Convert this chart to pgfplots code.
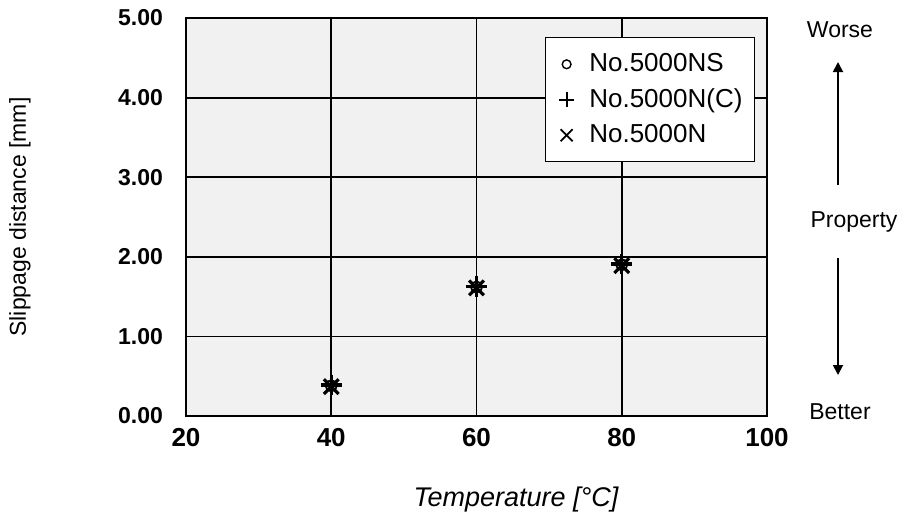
\documentclass[border=0pt]{standalone}
\usepackage{fontspec}
\setmainfont{Liberation Sans}
\usepackage{pgfplots}
\pgfplotsset{compat=1.18}
\usetikzlibrary{arrows.meta}

\begin{document}
\begin{tikzpicture}
\begin{axis}[
  scale only axis,
  width=290.5pt, height=199pt,
  xmin=20, xmax=100, ymin=0, ymax=5,
  xtick={20,40,60,80,100},
  ytick={0,1,2,3,4,5},
  major tick length=0pt,
  grid=major,
  major grid style={black, line width=0.9pt},
  axis line style={black, line width=0.8pt},
  axis background/.style={fill=gray!11},
  /pgf/number format/assume math mode=true,
  yticklabel style={/pgf/number format/fixed, /pgf/number format/fixed zerofill,
    /pgf/number format/precision=2, font=\bfseries\fontsize{11.5}{13}\selectfont, xshift=-8pt},
  xticklabel style={font=\bfseries\fontsize{13}{15}\selectfont, yshift=-2.5pt},
  xlabel={\itshape Temperature [°C]},
  ylabel={Slippage distance [mm]},
  xlabel style={font=\fontsize{13.5}{15}\selectfont, at={(rel axis cs:0.568,0)}, anchor=center, yshift=-42pt},
  ylabel style={font=\fontsize{11.5}{13}\selectfont, at={(rel axis cs:0,0.5)}, anchor=center, yshift=83pt},
  legend style={at={(rel axis cs:0.618,0.952)}, anchor=north west, draw=black, line width=0.6pt,
    fill=white, font=\fontsize{13}{15}\selectfont, row sep=3pt, inner xsep=4pt, inner ysep=6pt},
  legend cell align=left,
  clip=false,
]
\addplot[only marks, mark=o, mark size=2.8pt, black, line width=0.9pt,
  legend image code/.code={\path (0cm,0cm) (0.5cm,0cm); \draw[black, line width=0.7pt] (0.2cm,0cm) circle (2.2pt);}] coordinates {
  (40,0.38) (60,1.62) (80,1.90)
};
\addlegendentry{No.5000NS}
\addplot[only marks, mark=+, mark size=5.2pt, black, line width=1.6pt,
  legend image code/.code={\path (0cm,0cm) (0.5cm,0cm); \draw[black, line width=0.9pt] (0.2cm,-3.8pt) -- (0.2cm,3.8pt) (0.2cm-3.8pt,0cm) -- (0.2cm+3.8pt,0cm);}] coordinates {
  (40,0.39) (60,1.63) (80,1.91)
};
\addlegendentry{No.5000N(C)}
\addplot[only marks, mark=x, mark size=5.2pt, black, line width=1.6pt,
  legend image code/.code={\path (0cm,0cm) (0.5cm,0cm); \draw[black, line width=0.9pt] (0.2cm-3pt,-3pt) -- (0.2cm+3pt,3pt) (0.2cm-3pt,3pt) -- (0.2cm+3pt,-3pt);}] coordinates {
  (40,0.37) (60,1.61) (80,1.89)
};
\addlegendentry{No.5000N}
\end{axis}
\node[font=\fontsize{11.5}{13}\selectfont] at (327pt,193pt) {Worse};
\node[font=\fontsize{11.5}{13}\selectfont] at (334pt,97pt) {Property};
\node[font=\fontsize{11.5}{13}\selectfont] at (327pt,2pt) {Better};
\draw[line width=0.9pt, -{Triangle[length=5pt,width=5pt]}] (326pt,115.5pt) -- (326pt,177pt);
\draw[line width=0.9pt, -{Triangle[length=5pt,width=5pt]}] (326pt,79pt) -- (326pt,20.5pt);
\pgfresetboundingbox
\path (-93pt,-55pt) rectangle (359pt,208pt);
\end{tikzpicture}
\end{document}
